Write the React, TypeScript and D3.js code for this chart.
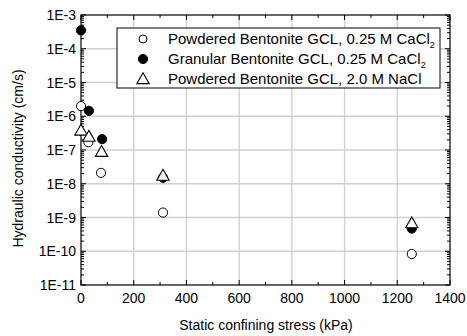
import React, { useRef, useEffect } from "react";
import * as d3 from "d3";

// stress (kPa) and hydraulic conductivity (cm/s) per series
const powderedCaStress = [0, 28, 76, 311, 1255];
const powderedCaK = [2.0e-6, 1.7e-7, 2.1e-8, 1.4e-9, 8.3e-11];

const granularCaStress = [0, 30, 80, 311, 1255];
const granularCaK = [3.5e-4, 1.45e-6, 2.1e-7, 1.5e-8, 4.7e-10];

const powderedNaStress = [0, 30, 78, 311, 1255];
const powderedNaK = [3.8e-7, 2.5e-7, 8.9e-8, 1.75e-8, 6.8e-10];

const xTicks = [0, 200, 400, 600, 800, 1000, 1200, 1400];
const yTicks = [1e-11, 1e-10, 1e-9, 1e-8, 1e-7, 1e-6, 1e-5, 1e-4, 1e-3];

const legendLabels = [
  { text: "Powdered Bentonite GCL, 0.25 M CaCl", sub: "2", marker: "open" },
  { text: "Granular Bentonite GCL, 0.25 M CaCl", sub: "2", marker: "filled" },
  { text: "Powdered Bentonite GCL, 2.0 M NaCl", sub: "", marker: "triangle" },
];

const FONT = "'Liberation Sans', Arial, sans-serif";

function App() {
  const svgRef = useRef(null);

  useEffect(() => {
    const width = 467;
    const height = 336;
    const margin = { top: 15, right: 17, bottom: 51, left: 81 };

    const svg = d3.select(svgRef.current);
    svg.selectAll("*").remove();

    const x = d3
      .scaleLinear()
      .domain([0, 1400])
      .range([margin.left, width - margin.right]);

    const y = d3
      .scaleLog()
      .domain([1e-11, 1e-3])
      .range([height - margin.bottom, margin.top]);

    const [x0, x1] = x.range();
    const [yb, yt] = y.range();

    // grid
    const grid = svg.append("g").attr("stroke", "#d0d0d0").attr("stroke-width", 1.4);
    xTicks.slice(1, -1).forEach((t) => {
      grid.append("line").attr("x1", x(t)).attr("x2", x(t)).attr("y1", yb).attr("y2", yt);
    });
    yTicks.slice(1, -1).forEach((t) => {
      grid.append("line").attr("x1", x0).attr("x2", x1).attr("y1", y(t)).attr("y2", y(t));
    });

    // ticks (all pointing inward)
    const ticks = svg.append("g").attr("stroke", "#000").attr("stroke-width", 1);
    d3.range(0, 1401, 100).forEach((t) => {
      const len = t % 200 === 0 ? 5 : 3;
      ticks.append("line").attr("x1", x(t)).attr("x2", x(t)).attr("y1", yb).attr("y2", yb - len);
      ticks.append("line").attr("x1", x(t)).attr("x2", x(t)).attr("y1", yt).attr("y2", yt + len);
    });
    yTicks.forEach((t, i) => {
      ticks.append("line").attr("x1", x0).attr("x2", x0 + 5).attr("y1", y(t)).attr("y2", y(t));
      ticks.append("line").attr("x1", x1).attr("x2", x1 - 5).attr("y1", y(t)).attr("y2", y(t));
      if (i < yTicks.length - 1) {
        for (let m = 2; m <= 9; m++) {
          const v = t * m;
          ticks.append("line").attr("x1", x0).attr("x2", x0 + 3).attr("y1", y(v)).attr("y2", y(v));
          ticks.append("line").attr("x1", x1).attr("x2", x1 - 3).attr("y1", y(v)).attr("y2", y(v));
        }
      }
    });

    // frame
    svg
      .append("rect")
      .attr("x", x0)
      .attr("y", yt)
      .attr("width", x1 - x0)
      .attr("height", yb - yt)
      .attr("fill", "none")
      .attr("stroke", "#000")
      .attr("stroke-width", 1.2);

    // tick labels
    svg
      .append("g")
      .selectAll("text")
      .data(xTicks)
      .enter()
      .append("text")
      .attr("x", (d) => x(d))
      .attr("y", yb + 18)
      .attr("text-anchor", "middle")
      .style("font-family", FONT)
      .style("font-size", "14px")
      .text((d) => d);

    svg
      .append("g")
      .selectAll("text")
      .data(yTicks)
      .enter()
      .append("text")
      .attr("x", x0 - 5)
      .attr("y", (d) => y(d) + 5)
      .attr("text-anchor", "end")
      .style("font-family", FONT)
      .style("font-size", "14px")
      .text((d) => "1E" + Math.round(Math.log10(d)));

    // axis titles
    svg
      .append("text")
      .attr("x", 266)
      .attr("y", 330)
      .attr("text-anchor", "middle")
      .style("font-family", FONT)
      .style("font-size", "14px")
      .text("Static confining stress (kPa)");

    svg
      .append("text")
      .attr("transform", `translate(23, 158.5) rotate(-90)`)
      .attr("text-anchor", "middle")
      .style("font-family", FONT)
      .style("font-size", "14px")
      .text("Hydraulic conductivity (cm/s)");

    // markers
    const r = 4.6;
    const triPath = (cx, cy) => {
      const s = 6.2;
      return `M${cx},${cy - s}L${cx + s},${cy + s * 0.75}L${cx - s},${cy + s * 0.75}Z`;
    };

    const pts = svg.append("g");
    powderedCaStress.forEach((s, i) => {
      pts
        .append("circle")
        .attr("cx", x(s))
        .attr("cy", y(powderedCaK[i]))
        .attr("r", r)
        .attr("fill", "#fff")
        .attr("stroke", "#000")
        .attr("stroke-width", 1);
    });
    granularCaStress.forEach((s, i) => {
      pts
        .append("circle")
        .attr("cx", x(s))
        .attr("cy", y(granularCaK[i]))
        .attr("r", r)
        .attr("fill", "#000")
        .attr("stroke", "#000");
    });
    powderedNaStress.forEach((s, i) => {
      pts
        .append("path")
        .attr("d", triPath(x(s), y(powderedNaK[i])))
        .attr("fill", "#fff")
        .attr("stroke", "#000")
        .attr("stroke-width", 1.1);
    });

    // legend
    const lg = svg.append("g");
    lg.append("rect")
      .attr("x", 117)
      .attr("y", 28)
      .attr("width", 323)
      .attr("height", 60)
      .attr("fill", "#fff")
      .attr("stroke", "#000")
      .attr("stroke-width", 1);

    legendLabels.forEach((d, i) => {
      const cy = 39 + i * 20;
      if (d.marker === "triangle") {
        lg.append("path")
          .attr("d", triPath(143, cy))
          .attr("fill", "#fff")
          .attr("stroke", "#000")
          .attr("stroke-width", 1.1);
      } else {
        lg.append("circle")
          .attr("cx", 143)
          .attr("cy", cy)
          .attr("r", d.marker === "filled" ? 4.6 : 4)
          .attr("fill", d.marker === "filled" ? "#000" : "#fff")
          .attr("stroke", "#000");
      }
      const t = lg
        .append("text")
        .attr("x", 168)
        .attr("y", cy + 5)
        .style("font-family", FONT)
        .style("font-size", "15px")
        .text(d.text);
      if (d.sub) {
        t.append("tspan").attr("dy", 4).style("font-size", "9px").text(d.sub);
      }
    });
  }, []);

  return (
    <svg
      ref={svgRef}
      width={467}
      height={336}
      style={{ position: "absolute", left: 0, top: 0, background: "#fff" }}
    ></svg>
  );
}

export default App;
